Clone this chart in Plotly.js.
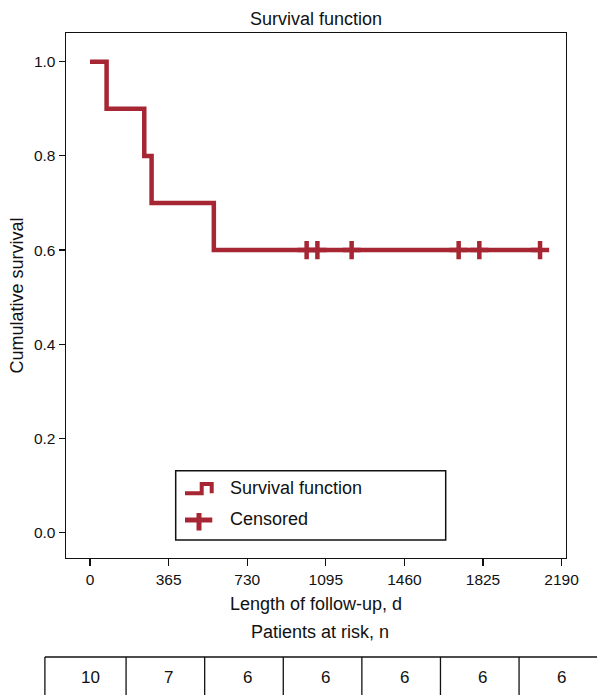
<!DOCTYPE html>
<html>
<head>
<meta charset="utf-8">
<script src="https://cdn.plot.ly/plotly-3.0.1.min.js"></script>
<style>html,body{margin:0;padding:0;background:#fff;}#chart{width:597px;height:695px;}</style>
</head>
<body>
<div id="chart"></div>
<script>
// ---- data ----
const stepTimes = [0, 77, 252, 286, 575, 2090];
const stepSurvival = [1.0, 0.9, 0.8, 0.7, 0.6, 0.6];
const censorTimes = [1006, 1056, 1215, 1712, 1808, 2090];
const censorSurvival = [0.6, 0.6, 0.6, 0.6, 0.6, 0.6];
const xTicks = [0, 365, 730, 1095, 1460, 1825, 2190];
const yTicks = [0.0, 0.2, 0.4, 0.6, 0.8, 1.0];
const atRisk = [10, 7, 6, 6, 6, 6, 6];

// ---- geometry ----
const W = 597, H = 695;
const M = {l: 66, r: 31, t: 33, b: 137};
const PW = W - M.l - M.r, PH = H - M.t - M.b;
const xRange = [-111.5, 2210.5];
const yRange = [-0.0537, 1.0609];
const RED = 'rgb(166,38,52)';
const TXT = '#111';
const FONT = 'Liberation Sans, Arial, sans-serif';

const px = p => (p - M.l) / PW;          // pixel x -> paper
const py = p => (H - M.b - p) / PH;      // pixel y -> paper
const dx = d => (d - xRange[0]) / (xRange[1] - xRange[0]); // day -> paper

const traces = [
  {
    x: stepTimes, y: stepSurvival, type: 'scatter', mode: 'lines',
    line: {shape: 'hv', color: RED, width: 4.5},
    name: 'Survival function', showlegend: false, hoverinfo: 'skip'
  },
  {
    x: censorTimes, y: censorSurvival, type: 'scatter', mode: 'markers',
    marker: {symbol: 'cross-thin', size: 13, color: RED, line: {color: RED, width: 4.5}},
    name: 'Censored', showlegend: false, hoverinfo: 'skip', cliponaxis: false
  }
];

const shapes = [];
const annotations = [];

// custom legend box
shapes.push({type: 'rect', xref: 'paper', yref: 'paper',
  x0: px(175.7), x1: px(445.7), y0: py(540), y1: py(470.7),
  line: {color: '#111', width: 1.5}, fillcolor: 'rgba(0,0,0,0)'});
shapes.push({type: 'path', xref: 'paper', yref: 'paper',
  path: `M${px(185)},${py(493.3)} L${px(201.7)},${py(493.3)} L${px(201.7)},${py(484)} L${px(211.7)},${py(484)} L${px(211.7)},${py(493.3)}`,
  line: {color: RED, width: 4}});
shapes.push({type: 'line', xref: 'paper', yref: 'paper',
  x0: px(185), x1: px(212.3), y0: py(520), y1: py(520), line: {color: RED, width: 5}});
shapes.push({type: 'line', xref: 'paper', yref: 'paper',
  x0: px(199), x1: px(199), y0: py(513), y1: py(530.5), line: {color: RED, width: 5}});
annotations.push({text: 'Survival function', xref: 'paper', yref: 'paper', x: px(227.5), y: py(487.6),
  xanchor: 'left', yanchor: 'middle', showarrow: false, font: {size: 18, color: TXT, family: FONT}});
annotations.push({text: 'Censored', xref: 'paper', yref: 'paper', x: px(227.5), y: py(518.6),
  xanchor: 'left', yanchor: 'middle', showarrow: false, font: {size: 18, color: TXT, family: FONT}});

// patients at risk header
annotations.push({text: 'Patients at risk, n', xref: 'paper', yref: 'paper', x: px(320), y: py(632),
  xanchor: 'center', yanchor: 'middle', showarrow: false, font: {size: 18, color: TXT, family: FONT}});

// at-risk table
const tableTop = py(657), tableBot = py(720);
const half = (xTicks[1] - xTicks[0]) / 2;
const edges = xTicks.map(t => t - half - 15);
edges[0] = xTicks[0] - half - 27;
edges.push(xTicks[xTicks.length - 1] + half + 40);
shapes.push({type: 'line', xref: 'paper', yref: 'paper', x0: dx(edges[0]), x1: 1.2, y0: tableTop, y1: tableTop,
  line: {color: '#111', width: 1.3}});
edges.slice(0, -1).forEach(e => {
  shapes.push({type: 'line', xref: 'paper', yref: 'paper', x0: dx(e), x1: dx(e), y0: tableTop, y1: tableBot,
    line: {color: '#111', width: 1.3}});
});
xTicks.forEach((t, i) => {
  annotations.push({text: String(atRisk[i]), xref: 'x', yref: 'paper', x: t, y: py(677.5),
    xanchor: 'center', yanchor: 'middle', showarrow: false, font: {size: 17, color: TXT, family: FONT}});
});

const layout = {
  width: W, height: H,
  margin: M,
  paper_bgcolor: '#fff', plot_bgcolor: '#fff',
  font: {family: FONT, color: TXT, size: 15},
  title: {text: 'Survival function', x: px(316), xanchor: 'center', xref: 'paper',
    y: 1 - 19 / H, yanchor: 'middle', yref: 'container', font: {size: 18, color: TXT, family: FONT}},
  showlegend: false,
  xaxis: {
    range: xRange, tickmode: 'array', tickvals: xTicks, ticktext: xTicks.map(String),
    showgrid: false, zeroline: false, showline: true, mirror: true, linecolor: '#111', linewidth: 1.4,
    ticks: 'outside', ticklen: 7, tickwidth: 1.2, tickcolor: '#111',
    tickfont: {size: 15.5, color: TXT, family: FONT},
    title: {text: 'Length of follow-up, d', font: {size: 18, color: TXT, family: FONT}, standoff: 10},
    automargin: false
  },
  yaxis: {
    range: yRange, tickmode: 'array', tickvals: yTicks, ticktext: yTicks.map(v => v.toFixed(1)),
    showgrid: false, zeroline: false, showline: true, mirror: true, linecolor: '#111', linewidth: 1.4,
    ticks: 'outside', ticklen: 6, tickwidth: 1.2, tickcolor: '#111',
    tickfont: {size: 15.5, color: TXT, family: FONT},
    title: {text: 'Cumulative survival', font: {size: 18, color: TXT, family: FONT}, standoff: 5},
    automargin: false
  },
  shapes: shapes,
  annotations: annotations
};

Plotly.newPlot('chart', traces, layout, {displayModeBar: false, staticPlot: true});
</script>
</body>
</html>
